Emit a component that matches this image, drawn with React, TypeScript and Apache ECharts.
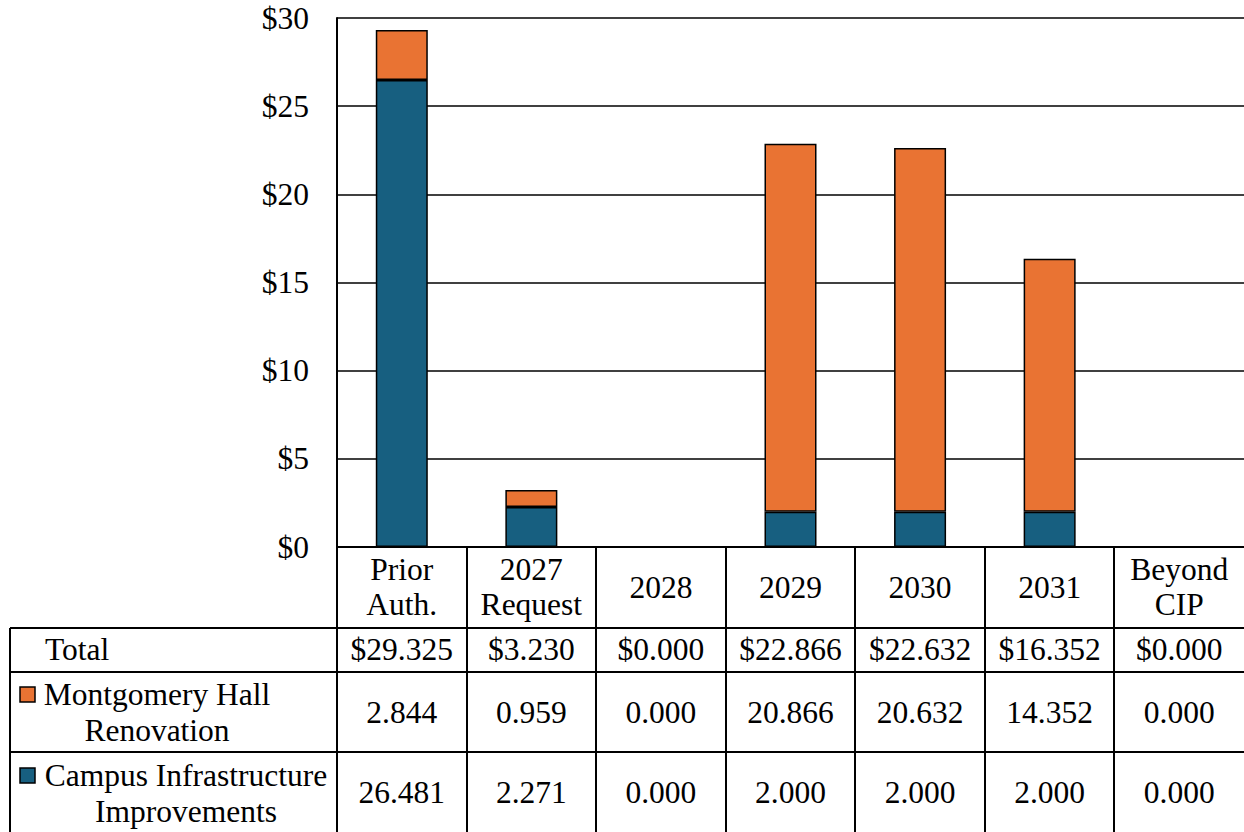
import React, { useEffect, useRef } from "react";
import * as echarts from "echarts";

const categories = ["Prior\nAuth.", "2027\nRequest", "2028", "2029", "2030", "2031", "Beyond\nCIP"];
const montgomery = [2.844, 0.959, 0.0, 20.866, 20.632, 14.352, 0.0];
const campus = [26.481, 2.271, 0.0, 2.0, 2.0, 2.0, 0.0];
const seriesNames = ["Montgomery Hall\nRenovation", "Campus Infrastructure\nImprovements"];
const yTicks = [0, 5, 10, 15, 20, 25, 30];

const BLUE = "#175F80";
const ORANGE = "#E97333";
const FONT = "'Liberation Serif', 'Times New Roman', serif";
const FS = 31.5;
const LH = 35;

const W = 1244;
const H = 832;
const GL = 337;
const GT = 18;
const GB = 547;
const COLW = (W - GL) / categories.length;
const ROW_TOTAL = [628, 672];
const ROW_M = [672, 752];
const ROW_C = [752, 832];

export default function App() {
  const ref = useRef<HTMLDivElement>(null);
  useEffect(() => {
    const chart = echarts.init(ref.current!, null, { renderer: "svg" });
    const totals = categories.map((_, i) => montgomery[i] + campus[i]);
    const graphics: any[] = [];
    const line = (x1: number, y1: number, x2: number, y2: number) =>
      graphics.push({
        type: "line",
        shape: { x1, y1, x2, y2 },
        style: { stroke: "#000", lineWidth: 2 },
        z: 10,
      });
    [ROW_TOTAL[0], ROW_M[0], ROW_C[0]].forEach((y) => line(10, y, W, y));
    line(10, ROW_TOTAL[0], 10, H);
    for (let i = 0; i < categories.length; i++) {
      const x = Math.round(GL + i * COLW);
      line(x, GB, x, H);
    }
    const txt = (text: string, x: number, y: number, align: string = "center", lh: number = LH) =>
      graphics.push({
        type: "text",
        x,
        y,
        style: {
          text,
          fill: "#000",
          fontFamily: FONT,
          fontSize: FS,
          align,
          verticalAlign: "middle",
          lineHeight: lh,
        },
        z: 10,
      });
    txt("Total", 45, (ROW_TOTAL[0] + ROW_TOTAL[1]) / 2 - 1, "left");
    txt(seriesNames[0], 157, 712, "center", 36);
    txt(seriesNames[1], 186, 793, "center", 36);
    graphics.push({
      type: "rect",
      shape: { x: 20, y: 687, width: 15, height: 15 },
      style: { fill: ORANGE, stroke: "#000", lineWidth: 1.5 },
      z: 10,
    });
    graphics.push({
      type: "rect",
      shape: { x: 20, y: 768, width: 15, height: 15 },
      style: { fill: BLUE, stroke: "#000", lineWidth: 1.5 },
      z: 10,
    });
    categories.forEach((_, i) => {
      const cx = GL + (i + 0.5) * COLW;
      txt("$" + totals[i].toFixed(3), cx, (ROW_TOTAL[0] + ROW_TOTAL[1]) / 2 - 1);
      txt(montgomery[i].toFixed(3), cx, (ROW_M[0] + ROW_M[1]) / 2);
      txt(campus[i].toFixed(3), cx, (ROW_C[0] + ROW_C[1]) / 2);
    });

    chart.setOption({
      animation: false,
      grid: { left: GL, top: GT, right: 0, bottom: H - GB, containLabel: false },
      xAxis: {
        type: "category",
        data: categories,
        axisLine: { show: true, lineStyle: { color: "#000", width: 2 } },
        axisTick: { show: false },
        axisLabel: {
          color: "#000",
          fontFamily: FONT,
          fontSize: FS,
          lineHeight: LH,
          verticalAlign: "middle",
          margin: 40,
          interval: 0,
        },
      },
      yAxis: {
        type: "value",
        min: 0,
        max: 30,
        interval: 5,
        axisLine: { show: true, lineStyle: { color: "#000", width: 2 } },
        axisTick: { show: false },
        splitLine: { show: true, lineStyle: { color: "#000", width: 1.5 } },
        axisLabel: {
          color: "#000",
          fontFamily: FONT,
          fontSize: FS,
          margin: 28,
          formatter: (v: number) => (yTicks.includes(v) ? "$" + v : ""),
        },
      },
      series: [
        {
          name: seriesNames[1],
          type: "bar",
          stack: "a",
          data: campus,
          barWidth: 52,
          itemStyle: { color: BLUE, borderColor: "#000", borderWidth: 1.5 },
        },
        {
          name: seriesNames[0],
          type: "bar",
          stack: "a",
          data: montgomery,
          barWidth: 52,
          itemStyle: { color: ORANGE, borderColor: "#000", borderWidth: 1.5 },
        },
      ],
      graphic: graphics,
    });
    return () => chart.dispose();
  }, []);
  return <div ref={ref} style={{ width: W, height: H, position: "absolute", left: 0, top: 0 }} />;
}
